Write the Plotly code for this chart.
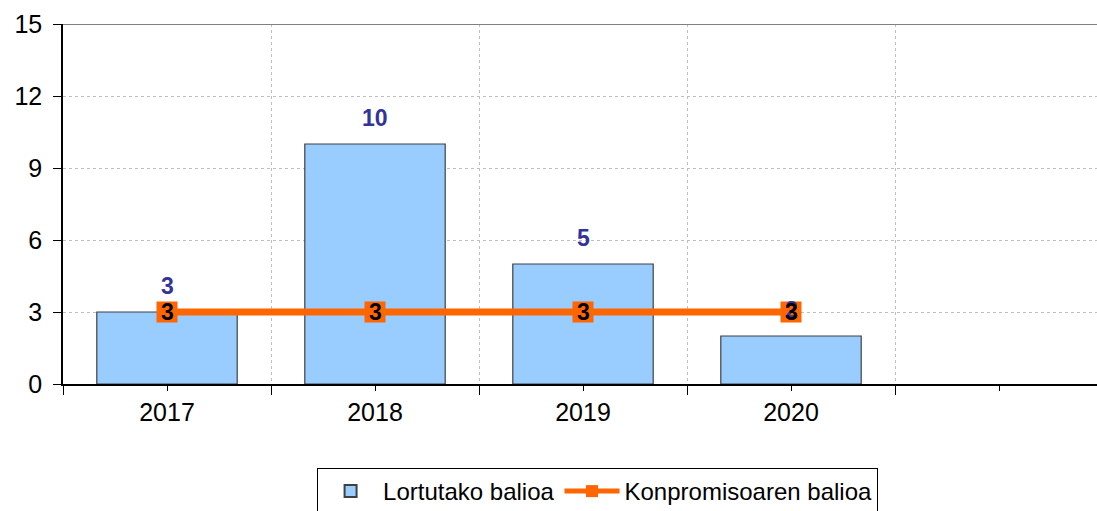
import plotly.graph_objects as go

categories = ["2017", "2018", "2019", "2020", ""]
achieved = [3, 10, 5, 2]
commitment = [3, 3, 3, 3]
y_ticks = [0, 3, 6, 9, 12, 15]

xpos = list(range(len(categories)))
FONT = "Liberation Sans, Arial, sans-serif"

fig = go.Figure()
fig.add_trace(go.Bar(
    x=xpos[:len(achieved)], y=achieved, name="Lortutako balioa",
    width=0.675,
    marker=dict(color="#99CCFF", line=dict(color="#404040", width=1.2)),
))
fig.add_trace(go.Scatter(
    x=xpos[:len(commitment)], y=commitment, name="Konpromisoaren balioa",
    mode="lines+markers",
    line=dict(color="#FF6600", width=7),
    marker=dict(symbol="square", size=21, color="#FF6600"),
))

annotations = []
for x, v in zip(xpos, achieved):
    annotations.append(dict(x=x, y=v, text=str(v), showarrow=False, yshift=26,
                            yanchor="middle", xanchor="center",
                            font=dict(family=FONT, size=23, color="#333399", weight="bold")))
for x, v in zip(xpos, commitment):
    annotations.append(dict(x=x, y=v, text=str(v), showarrow=False,
                            yanchor="middle", xanchor="center",
                            font=dict(family=FONT, size=23, color="#000000", weight="bold")))

fig.update_layout(
    width=1097, height=511,
    margin=dict(l=63, r=0, t=24, b=127),
    plot_bgcolor="white", paper_bgcolor="white",
    font=dict(family=FONT, size=25, color="#000000"),
    bargap=0.3,
    annotations=annotations,
    showlegend=True,
    legend=dict(orientation="h", xref="paper", x=0.517, xanchor="center",
                yref="container", y=1 - 468 / 511, yanchor="top",
                bgcolor="white", bordercolor="#000000", borderwidth=1,
                font=dict(family=FONT, size=24, color="#000000"),
                itemsizing="constant", itemwidth=55, tracegroupgap=0),
    xaxis=dict(
        range=[-0.5, -0.5 + 1034 / 208],
        tickmode="array", tickvals=xpos, ticktext=categories,
        ticks="outside", ticklen=5, tickcolor="#000000", tickwidth=1,
        showgrid=False, zeroline=False,
        showline=True, linecolor="#000000", linewidth=1.5,
        tickfont=dict(family=FONT, size=25, color="#000000"),
        minor=dict(tick0=-0.5, dtick=1, ticks="outside", ticklen=9,
                   tickcolor="#000000", showgrid=True, gridcolor="#C0C0C0",
                   griddash="dot", gridwidth=1),
        fixedrange=True,
    ),
    yaxis=dict(
        range=[0, 15], tickmode="array", tickvals=y_ticks,
        ticks="outside", ticklen=8, tickcolor="#000000",
        ticklabelstandoff=6,
        showgrid=True, gridcolor="#C0C0C0", griddash="dot", gridwidth=1,
        zeroline=False, showline=True, linecolor="#000000", linewidth=1.5,
        tickfont=dict(family=FONT, size=25, color="#000000"),
        fixedrange=True,
    ),
    shapes=[dict(type="line", xref="paper", yref="y", x0=0, x1=1, y0=15, y1=15,
                 line=dict(color="#808080", width=2))],
)

fig.write_html("out.html", config={"displayModeBar": False},
               post_script="document.body.style.margin='0';document.body.style.overflow='hidden';")
